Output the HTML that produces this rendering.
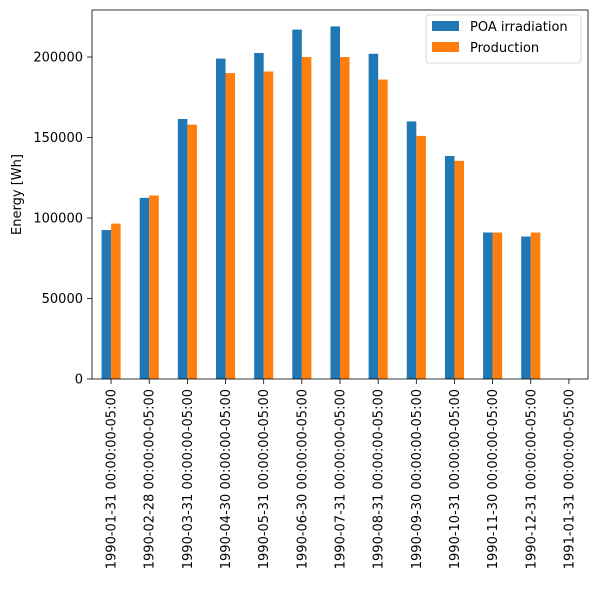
<!DOCTYPE html>
<html><head><meta charset="utf-8"><style>
body{margin:0;background:#fff}
svg{font-family:"DejaVu Sans","Liberation Sans",sans-serif}
</style></head><body>
<svg id="c" width="597" height="590"></svg>
<script>
const categories=["1990-01-31 00:00:00-05:00","1990-02-28 00:00:00-05:00","1990-03-31 00:00:00-05:00","1990-04-30 00:00:00-05:00","1990-05-31 00:00:00-05:00","1990-06-30 00:00:00-05:00","1990-07-31 00:00:00-05:00","1990-08-31 00:00:00-05:00","1990-09-30 00:00:00-05:00","1990-10-31 00:00:00-05:00","1990-11-30 00:00:00-05:00","1990-12-31 00:00:00-05:00","1991-01-31 00:00:00-05:00"];
const poa=[92500,112500,161500,199000,202500,217000,219000,202000,160000,138500,91000,88500,0];
const production=[96500,114000,158000,190000,191000,200000,200000,186000,151000,135500,91000,91000,0];
const yTicks=[0,50000,100000,150000,200000];
const seriesNames=["POA irradiation","Production"];
const colors=["#1f77b4","#ff7f0e"];
const NS="http://www.w3.org/2000/svg";
const svg=document.getElementById('c');
const L=92,R=588,T=10,B=379;
const FS=13;
const x=i=>L+(i+0.5)*(R-L)/categories.length;
const unit=(R-L)/categories.length;
const y=v=>B-v*322/200000;
function mk(t,a,p){const e=document.createElementNS(NS,t);for(const k in a)e.setAttribute(k,a[k]);(p||svg).appendChild(e);return e;}
[poa,production].forEach((s,si)=>{s.forEach((v,i)=>{
 const r=mk('rect',{x:x(i)+(si-1)*unit*0.25,y:y(v),width:unit*0.25,height:B-y(v),fill:colors[si]});
 
 
});});
const ax=mk('rect',{x:L,y:T,width:R-L,height:B-T,fill:'none',stroke:'#000','stroke-width':0.8});


yTicks.forEach(v=>{
 mk('line',{x1:L-5,x2:L,y1:y(v),y2:y(v),stroke:'#000','stroke-width':0.8});
 const t=mk('text',{x:L-9,y:y(v)+4.5,'text-anchor':'end','font-size':FS});t.textContent=v;
 
 
});
categories.forEach((c,i)=>{
 mk('line',{x1:x(i),x2:x(i),y1:B,y2:B+5,stroke:'#000','stroke-width':0.8});
 const t=mk('text',{x:0,y:0,'text-anchor':'end','font-size':FS,transform:`translate(${x(i)+4.5},${B+10}) rotate(-90)`});t.textContent=c;
 
 
});
const yt=mk('text',{x:0,y:0,'text-anchor':'middle','font-size':FS,transform:`translate(21,${(T+B)/2}) rotate(-90)`});yt.textContent="Energy [Wh]";


const lg=mk('g',{});


mk('rect',{x:426,y:15,width:155,height:48,rx:3,fill:'#fff',stroke:'#ccc','stroke-width':0.8},lg);
seriesNames.forEach((n,i)=>{
 mk('rect',{x:432,y:21+i*21,width:27,height:10,fill:colors[i]},lg);
 const t=mk('text',{x:470,y:31+i*21,'font-size':FS},lg);t.textContent=n;
 
 
});
</script>
</body></html>
